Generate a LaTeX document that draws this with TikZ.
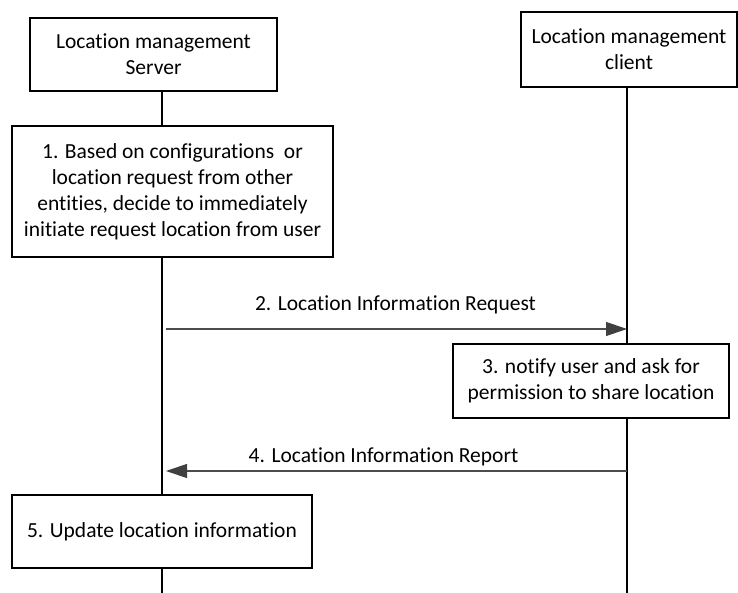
\documentclass[tikz,border=0pt]{standalone}
\usepackage{fontspec}
\setmainfont[Ligatures=NoCommon]{Carlito}
\usetikzlibrary{arrows.meta}
\tikzset{
  box/.style={draw, line width=1.3pt, fill=white, align=center, inner sep=0pt,
    font=\fontsize{21.5}{26}\selectfont},
  life/.style={line width=1.3pt},
  msg/.style={draw=black!70, line width=1.1pt,
    -{Triangle[length=21pt,width=14pt,color=black!75]}},
  lbl/.style={font=\fontsize{21.5}{26}\selectfont, inner sep=0pt}
}
\begin{document}
\begin{tikzpicture}[x=1pt,y=-1pt]
\useasboundingbox (0,0) rectangle (738,593);
% entities
\node[box, minimum width=247, minimum height=73] (srv) at (153.5,54.5) {Location management\\Server};
\node[box, minimum width=216, minimum height=75] (cli) at (629,49.5) {Location management\\client};
% steps
\node[box, minimum width=321, minimum height=131] (s1) at (172.5,191.5)
  {1. Based on configurations\ \ or\\location request from other\\entities, decide to immediately\\initiate request location from user};
\node[box, minimum width=276, minimum height=74] (s3) at (591,381)
  {3. notify user and ask for\\permission to share location};
\node[box, minimum width=300, minimum height=73] (s5) at (162,531.5) {5. Update location information};
% lifelines
\coordinate (srvend) at (162,593);
\coordinate (cliend) at (627,593);
\draw[life] (srv.south -| srvend) -- (s1.north -| srvend);
\draw[life] (s1.south -| srvend) -- (s5.north -| srvend);
\draw[life] (s5.south -| srvend) -- (srvend);
\draw[life] (cli.south -| cliend) -- (s3.north -| cliend);
\draw[life] (s3.south -| cliend) -- (cliend);
% messages
\coordinate (m2a) at (166,329);
\coordinate (m2b) at (627,329);
\coordinate (m4a) at (627,471);
\coordinate (m4b) at (166,471);
\draw[msg] (m2a) -- (m2b);
\draw[msg] (m4a) -- (m4b);
\node[lbl] (l2) at (395.5,305) {2. Location Information Request};
\node[lbl] (l4) at (383.5,457) {4. Location Information Report};
\end{tikzpicture}
\end{document}
